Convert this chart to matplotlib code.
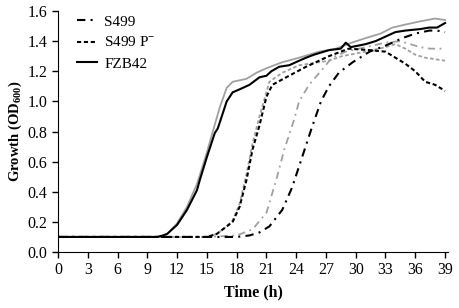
import matplotlib
matplotlib.use("Agg")
import matplotlib.pyplot as plt
import numpy as np

plt.rcParams['font.family'] = ['Liberation Serif', 'DejaVu Serif']
plt.rcParams['mathtext.fontset'] = 'custom'
plt.rcParams['mathtext.rm'] = 'Liberation Serif'
plt.rcParams['mathtext.bf'] = 'Liberation Serif:bold'

# time points (h)
t_fzb = [0, 3, 6, 9, 10, 10.6, 11, 12, 13, 14, 14.3, 15, 15.8, 16.1, 17, 17.6, 18.3, 19.3, 20.3, 21, 21.5, 22.3, 23.3, 24.3, 25, 25.8, 27.3, 28.5, 29, 29.5, 31, 32, 33, 34, 35, 36.5, 37.4, 38.2, 39]
fzb42 = [0.10, 0.10, 0.10, 0.10, 0.10, 0.11, 0.12, 0.18, 0.28, 0.41, 0.48, 0.63, 0.79, 0.82, 1.00, 1.06, 1.08, 1.11, 1.16, 1.17, 1.20, 1.23, 1.24, 1.27, 1.29, 1.31, 1.34, 1.35, 1.39, 1.36, 1.38, 1.40, 1.43, 1.46, 1.47, 1.48, 1.49, 1.49, 1.52]

t_fzb_r = [0, 3, 6, 9, 10, 10.6, 11, 12, 13, 14, 15, 15.6, 16.3, 17, 17.6, 19, 20, 21, 22.6, 24.3, 26.3, 28, 29.6, 31, 32.5, 33.7, 35, 36.4, 38, 39]
fzb42_r = [0.10, 0.10, 0.10, 0.10, 0.10, 0.11, 0.12, 0.19, 0.30, 0.45, 0.66, 0.80, 0.96, 1.09, 1.13, 1.15, 1.19, 1.22, 1.26, 1.29, 1.33, 1.35, 1.39, 1.42, 1.45, 1.49, 1.51, 1.53, 1.55, 1.54]

t_p = [0, 3, 6, 9, 12, 15, 16, 17, 17.6, 18.3, 19, 19.6, 20.3, 21, 21.6, 23, 25, 27.3, 29.3, 31.4, 33, 34, 35, 36, 37, 38, 39]
s499p = [0.10, 0.10, 0.10, 0.10, 0.10, 0.10, 0.12, 0.17, 0.20, 0.30, 0.48, 0.68, 0.84, 1.03, 1.11, 1.16, 1.23, 1.30, 1.35, 1.34, 1.33, 1.29, 1.25, 1.20, 1.13, 1.11, 1.07]

t_p_r = [0, 3, 6, 9, 12, 15, 16, 17, 17.6, 18.3, 19, 19.6, 20.3, 21.3, 22.6, 24.3, 27.3, 28.6, 31, 33, 34, 35, 36, 37, 38, 39]
s499p_r = [0.10, 0.10, 0.10, 0.10, 0.10, 0.10, 0.12, 0.17, 0.21, 0.32, 0.52, 0.72, 0.90, 1.13, 1.19, 1.24, 1.27, 1.30, 1.33, 1.36, 1.38, 1.35, 1.31, 1.29, 1.28, 1.27]

t_s = [0, 3, 6, 9, 12, 15, 18, 19.3, 20.3, 21.3, 22.6, 23.6, 24.6, 25.6, 26.5, 27.3, 28.3, 29.7, 31.4, 33, 34.7, 36, 37.4, 38.2, 39]
s499 = [0.10, 0.10, 0.10, 0.10, 0.10, 0.10, 0.10, 0.11, 0.13, 0.17, 0.28, 0.43, 0.63, 0.83, 1.00, 1.10, 1.19, 1.26, 1.33, 1.37, 1.42, 1.45, 1.47, 1.47, 1.46]

t_s_r = [0, 3, 6, 9, 12, 15, 18, 19.6, 21, 22, 22.8, 23.8, 24.3, 25.3, 26.6, 27.6, 29, 31, 33, 34.5, 35.5, 36.5, 37.5, 39]
s499_r = [0.10, 0.10, 0.10, 0.10, 0.10, 0.10, 0.11, 0.15, 0.26, 0.48, 0.68, 0.88, 1.00, 1.11, 1.21, 1.29, 1.33, 1.36, 1.39, 1.40, 1.38, 1.36, 1.35, 1.35]

x_ticks = list(range(0, 40, 3))
y_ticks = [0.0, 0.2, 0.4, 0.6, 0.8, 1.0, 1.2, 1.4, 1.6]

fig = plt.figure(figsize=(4.59, 3.08), dpi=100)
ax = fig.add_axes([58/459, 56/308, 390/459, 241/308])

gray = '#a0a0a0'
dashdot = (0, (4, 2.5, 1, 2.5))
dashed = (0, (2, 1.3))

ax.plot(t_fzb_r, fzb42_r, color=gray, lw=1.3, ls='-')
ax.plot(t_p_r, s499p_r, color=gray, lw=1.3, ls=dashed)
ax.plot(t_s_r, s499_r, color=gray, lw=1.3, ls=dashdot)
l1, = ax.plot(t_s, s499, color='black', lw=1.5, ls=dashdot)
l2, = ax.plot(t_p, s499p, color='black', lw=1.5, ls=dashed)
l3, = ax.plot(t_fzb, fzb42, color='black', lw=1.5, ls='-')

ax.set_xlim(0, 39.3)
ax.set_ylim(0, 1.6)
ax.set_xticks(x_ticks)
ax.set_yticks(y_ticks)
ax.set_yticklabels([f"{v:.1f}" for v in y_ticks])
ax.spines['top'].set_visible(False)
ax.spines['right'].set_visible(False)
ax.tick_params(direction='out', length=4, width=1, labelsize=11.5)
ax.set_xlabel('Time (h)', fontsize=11.5, fontweight='bold')
ax.set_ylabel(r'Growth (OD$_{\mathbf{600}}$)', fontsize=10.5, fontweight='bold', labelpad=3)

leg = ax.legend([l1, l2, l3], ['S499', 'S499 P$^{\\mathbf{-}}$', 'FZB42'], loc='upper left',
                bbox_to_anchor=(0.013, 1.04), frameon=False, fontsize=11,
                handlelength=1.35, handletextpad=0.45, labelspacing=0.45)

fig.savefig('out.png', dpi=100)
